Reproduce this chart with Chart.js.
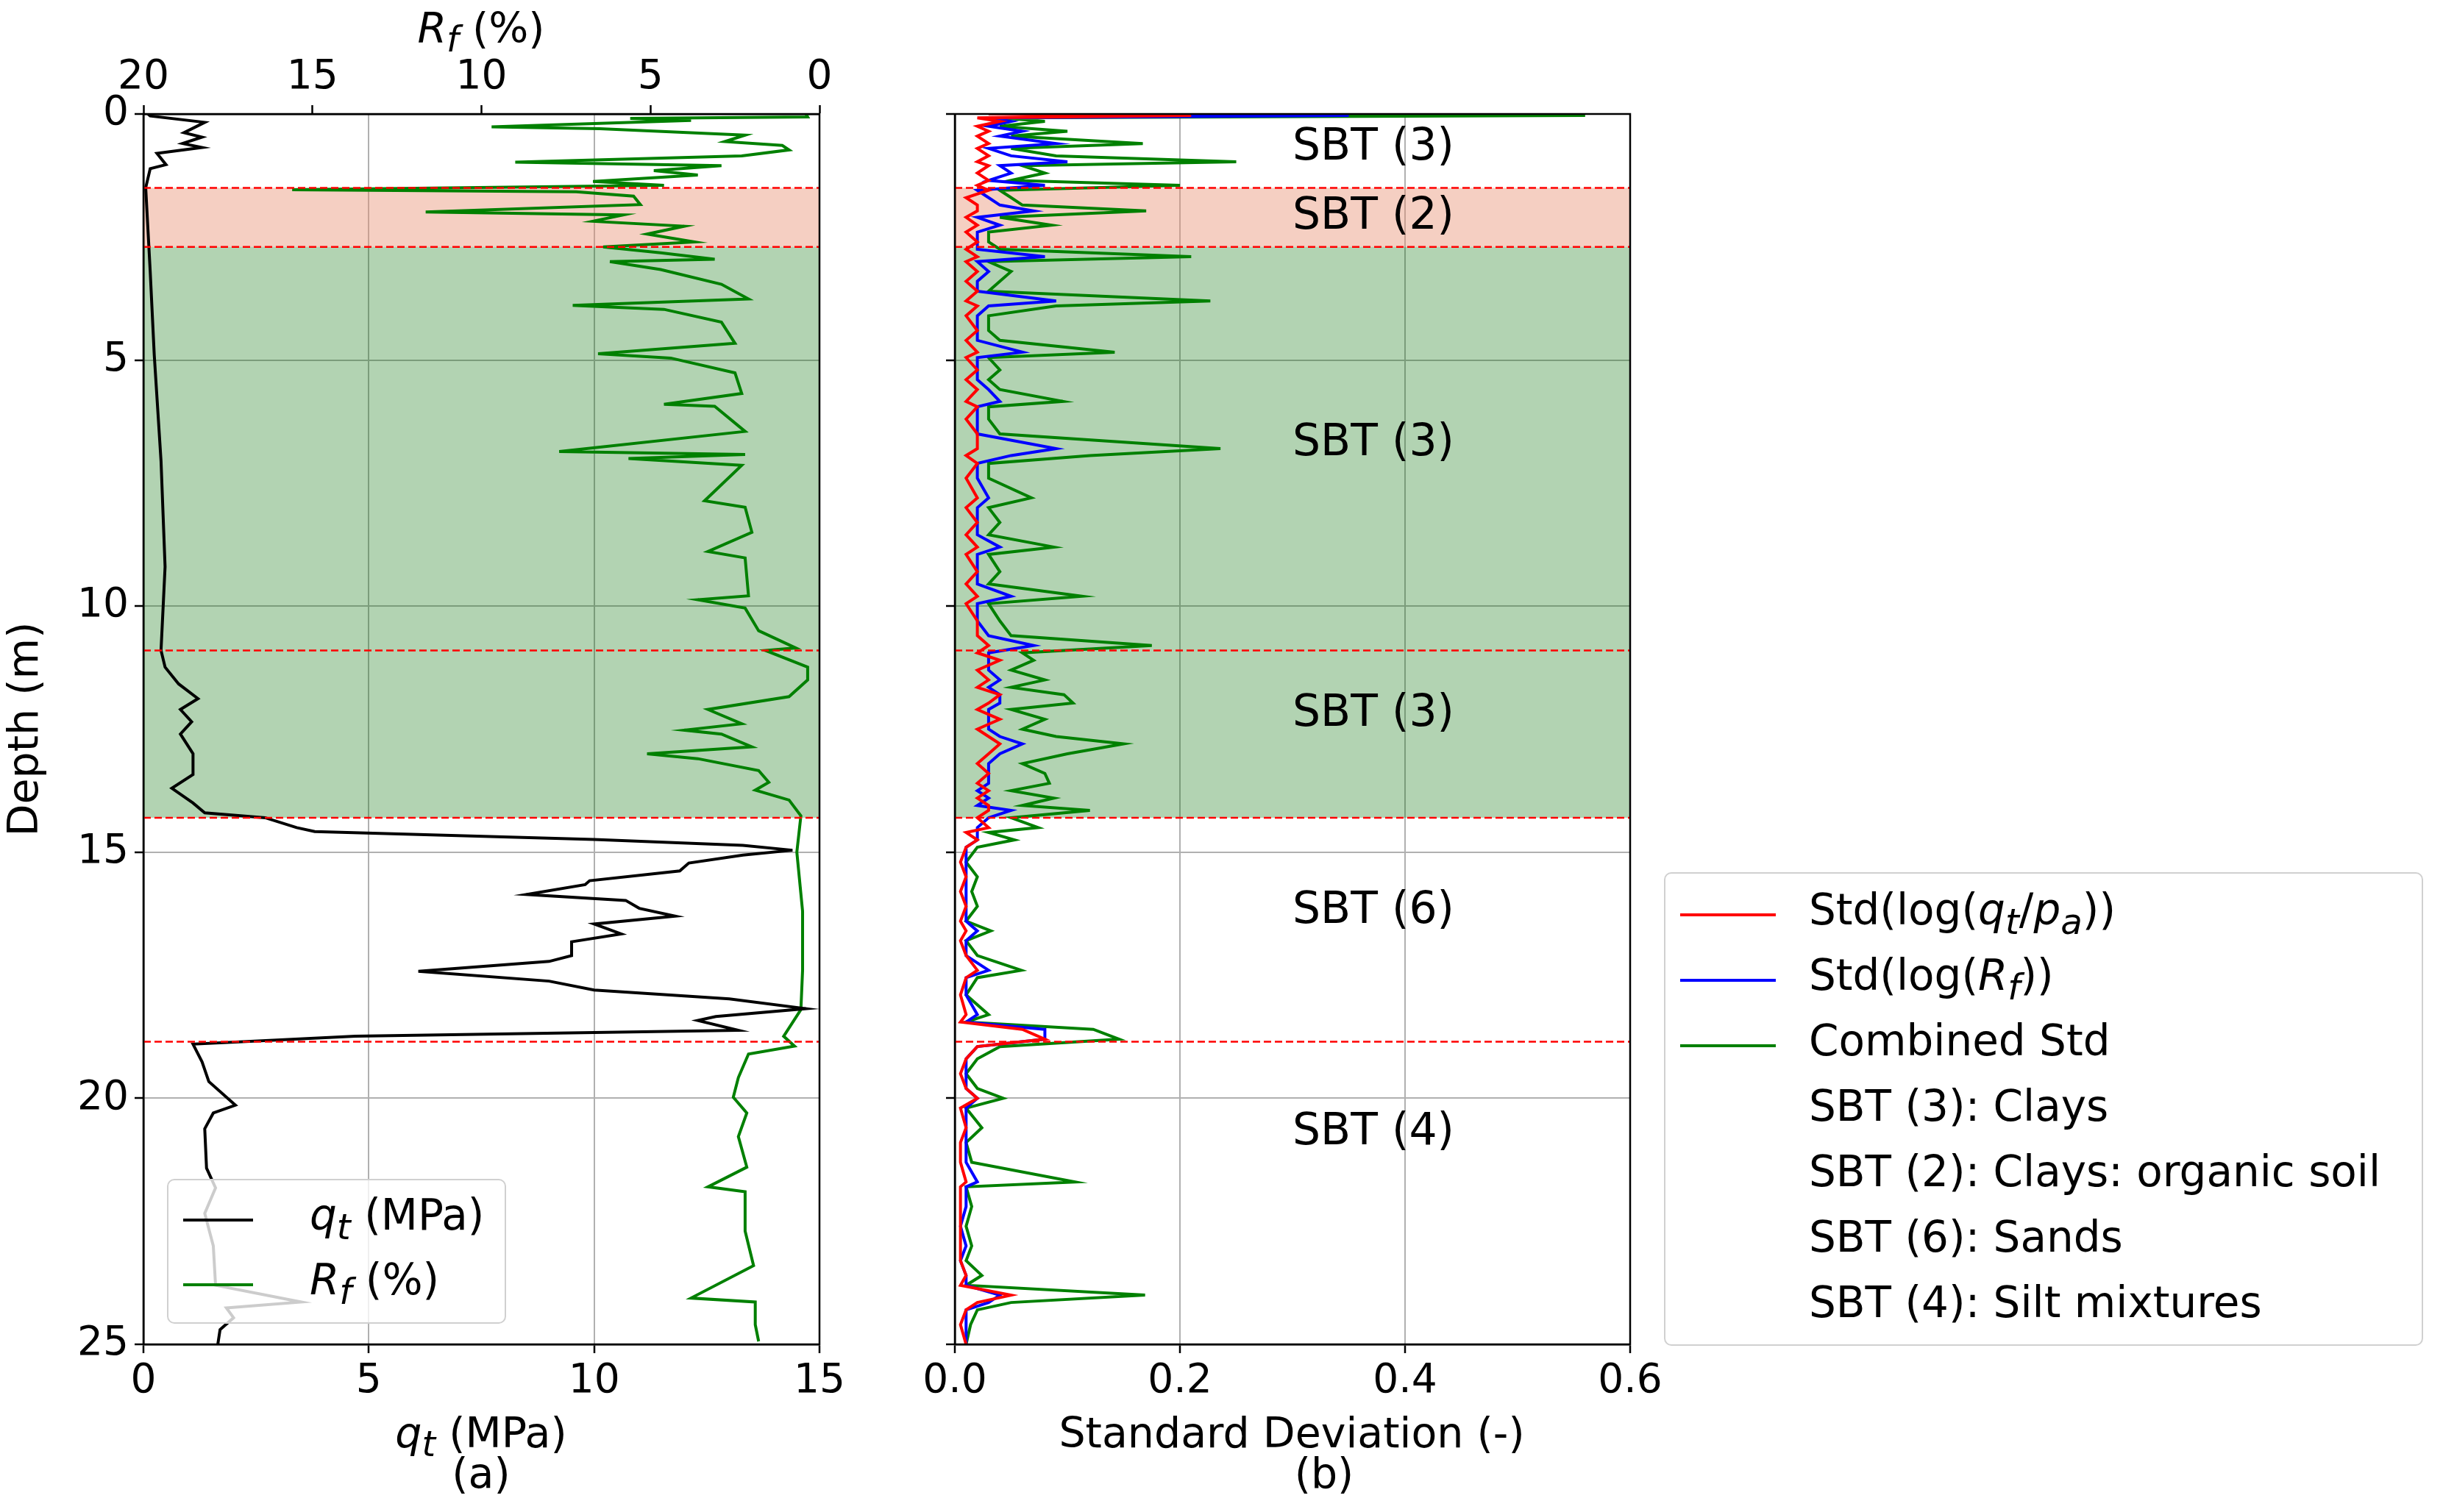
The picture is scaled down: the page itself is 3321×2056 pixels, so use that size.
<!DOCTYPE html>
<html>
<head>
<meta charset="utf-8">
<script src="https://cdn.jsdelivr.net/npm/chart.js@4"></script>
<style>
  body { margin: 0; background: #fff; width: 3321px; height: 2056px; position: relative; overflow: hidden;
         font-family: 'DejaVu Sans', sans-serif; color: #000; }
  canvas { position: absolute; top: 0; }
  .lbl { position: absolute; font-size: 57px; white-space: nowrap; transform: translateX(-50%); line-height: 1; }
  .legend { position: absolute; background: rgba(255,255,255,0.8); border: 2px solid #d0d0d0; border-radius: 10px; }
  .item { position: absolute; font-size: 58px; white-space: nowrap; line-height: 1.1; }
  .item span.h { position: absolute; height: 4px; width: 130px; }
</style>
</head>
<body>
<div style="position:absolute;left:0;top:0;width:1180px;height:2056px"><canvas id="chart-a"></canvas></div>
<div style="position:absolute;left:1180px;top:0;width:1100px;height:2056px"><canvas id="chart-b"></canvas></div>

<div class="lbl" style="left:654px;top:10px"><i>R<sub>f</sub></i> (%)</div>
<div class="lbl" style="left:654px;top:1920px"><i>q<sub>t</sub></i> (MPa)</div>
<div class="lbl" style="left:654px;top:1975px">(a)</div>
<div class="lbl" style="left:1756px;top:1920px">Standard Deviation (-)</div>
<div class="lbl" style="left:1800px;top:1975px">(b)</div>

<div class="legend" style="left:227px;top:1603px;width:457px;height:193px">
  <div class="item" style="left:20px;top:16px"><span class="h" style="background:#000;top:36px;width:95px"></span><span style="margin-left:172px"><i>q<sub>t</sub></i> (MPa)</span></div>
  <div class="item" style="left:20px;top:104px"><span class="h" style="background:#008000;top:36px;width:95px"></span><span style="margin-left:172px"><i>R<sub>f</sub></i> (%)</span></div>
</div>

<div class="legend" style="left:2262px;top:1186px;width:1028px;height:640px">
  <div class="item" style="left:20px;top:18px"><span class="h" style="background:#ff0000;top:36px"></span><span style="margin-left:175px">Std(log(<i>q<sub>t</sub></i>/<i>p<sub>a</sub></i>))</span></div>
  <div class="item" style="left:20px;top:107px"><span class="h" style="background:#0000ff;top:36px"></span><span style="margin-left:175px">Std(log(<i>R<sub>f</sub></i>))</span></div>
  <div class="item" style="left:20px;top:196px"><span class="h" style="background:#008000;top:36px"></span><span style="margin-left:175px">Combined Std</span></div>
  <div class="item" style="left:20px;top:285px"><span style="margin-left:175px">SBT (3): Clays</span></div>
  <div class="item" style="left:20px;top:374px"><span style="margin-left:175px">SBT (2): Clays: organic soil</span></div>
  <div class="item" style="left:20px;top:463px"><span style="margin-left:175px">SBT (6): Sands</span></div>
  <div class="item" style="left:20px;top:552px"><span style="margin-left:175px">SBT (4): Silt mixtures</span></div>
</div>

<script>
  // Cone tip resistance qt (MPa) vs depth (m)
  const qtDepth = [0, 0.04, 0.17, 0.38, 0.47, 0.6, 0.68, 0.8, 1.03, 1.11, 1.5, 3.2, 4.9, 7.05, 9.2, 10.9, 11.24, 11.58, 11.88, 12.1, 12.35, 12.6, 13.0, 13.42, 13.7, 14.0, 14.2, 14.3, 14.5, 14.58, 14.74, 14.86, 14.96, 15.06, 15.22, 15.38, 15.58, 15.66, 15.86, 15.98, 16.14, 16.3, 16.46, 16.66, 16.82, 17.1, 17.22, 17.42, 17.62, 17.8, 17.98, 18.18, 18.34, 18.42, 18.62, 18.74, 18.9, 19.26, 19.66, 20.14, 20.3, 20.62, 21.42, 21.82, 22.34, 23.0, 23.8, 24.14, 24.26, 24.46, 24.7, 25.0];
  const qtValue = [0.1, 0.15, 1.36, 0.9, 1.3, 0.87, 1.3, 0.3, 0.5, 0.15, 0.05, 0.15, 0.24, 0.39, 0.48, 0.39, 0.48, 0.78, 1.21, 0.82, 1.07, 0.82, 1.1, 1.1, 0.63, 1.1, 1.36, 2.7, 3.4, 3.8, 10.0, 13.3, 14.4, 13.3, 12.1, 11.9, 9.9, 9.8, 8.5, 10.7, 11.0, 11.8, 10.0, 10.6, 9.5, 9.5, 9.0, 6.1, 9.0, 10.0, 13.0, 14.7, 12.7, 12.3, 13.2, 4.7, 1.1, 1.3, 1.45, 2.04, 1.55, 1.36, 1.4, 1.6, 1.36, 1.55, 1.6, 3.5, 1.84, 2.0, 1.7, 1.65];

  // Friction ratio Rf (%) vs depth (m)
  const rfDepth = [0, 0.06, 0.09, 0.13, 0.26, 0.3, 0.43, 0.56, 0.64, 0.73, 0.85, 0.98, 1.05, 1.15, 1.24, 1.37, 1.45, 1.54, 1.58, 1.67, 1.84, 1.99, 2.05, 2.18, 2.28, 2.44, 2.6, 2.7, 2.82, 2.95, 3.0, 3.16, 3.46, 3.76, 3.89, 3.97, 4.23, 4.66, 4.87, 4.96, 5.26, 5.68, 5.9, 5.94, 6.45, 6.86, 6.92, 7.0, 7.14, 7.86, 7.99, 8.5, 8.89, 9.02, 9.79, 9.87, 10.04, 10.5, 10.85, 10.9, 11.24, 11.5, 11.84, 12.1, 12.39, 12.52, 12.6, 12.86, 13.0, 13.1, 13.34, 13.58, 13.74, 13.94, 14.26, 15.0, 16.2, 17.4, 18.2, 18.74, 18.94, 19.1, 19.58, 19.98, 20.3, 20.78, 21.4, 21.8, 21.9, 22.7, 23.4, 24.06, 24.14, 24.6, 24.94];
  const rfValue = [0.4, 0.35, 5.6, 3.8, 9.7, 6.5, 2.2, 2.8, 1.1, 0.9, 2.3, 9.0, 2.9, 4.9, 3.6, 6.7, 4.6, 15.6, 7.2, 5.5, 5.3, 11.65, 5.8, 6.7, 4.0, 5.1, 3.7, 6.4, 4.7, 3.1, 6.2, 4.7, 2.9, 2.1, 7.3, 4.6, 2.9, 2.5, 6.55, 4.4, 2.5, 2.3, 4.6, 3.1, 2.2, 7.7, 2.2, 5.65, 2.3, 3.4, 2.2, 2.0, 3.3, 2.2, 2.1, 3.6, 2.2, 1.8, 0.7, 1.6, 0.35, 0.35, 0.9, 3.3, 2.3, 4.0, 2.9, 2.0, 5.1, 3.6, 1.8, 1.5, 1.9, 0.9, 0.55, 0.67, 0.5, 0.5, 0.55, 1.06, 0.74, 2.1, 2.4, 2.55, 2.15, 2.4, 2.15, 3.3, 2.2, 2.2, 1.95, 3.8, 1.9, 1.9, 1.8];

  // Standard deviations vs depth (m)
  const stdDepth = [0, 0.03, 0.08, 0.15, 0.25, 0.35, 0.45, 0.6, 0.7, 0.85, 0.97, 1.05, 1.2, 1.35, 1.45, 1.55, 1.7, 1.85, 1.97, 2.1, 2.26, 2.4, 2.6, 2.75, 2.9, 3.0, 3.2, 3.4, 3.6, 3.8, 3.9, 4.1, 4.4, 4.6, 4.84, 4.95, 5.2, 5.4, 5.6, 5.84, 5.95, 6.2, 6.5, 6.8, 6.94, 7.1, 7.4, 7.8, 8.0, 8.3, 8.55, 8.8, 8.95, 9.3, 9.55, 9.8, 9.95, 10.3, 10.6, 10.8, 10.95, 11.1, 11.3, 11.5, 11.65, 11.8, 11.97, 12.1, 12.3, 12.5, 12.65, 12.8, 13.0, 13.2, 13.4, 13.6, 13.75, 13.9, 14.05, 14.15, 14.3, 14.5, 14.6, 14.75, 14.9, 15.2, 15.5, 15.8, 16.1, 16.4, 16.6, 16.8, 17.1, 17.4, 17.55, 17.9, 18.3, 18.45, 18.6, 18.8, 18.95, 19.2, 19.5, 19.8, 20.0, 20.2, 20.6, 20.9, 21.3, 21.7, 21.8, 22.2, 22.6, 23.0, 23.3, 23.6, 23.8, 24.0, 24.15, 24.3, 24.6, 25.0];
  const stdQt = [0.03, 0.21, 0.02, 0.04, 0.02, 0.03, 0.02, 0.03, 0.02, 0.03, 0.02, 0.03, 0.02, 0.03, 0.02, 0.03, 0.01, 0.02, 0.02, 0.01, 0.02, 0.01, 0.02, 0.01, 0.02, 0.01, 0.02, 0.01, 0.02, 0.01, 0.02, 0.01, 0.02, 0.01, 0.02, 0.01, 0.02, 0.01, 0.02, 0.01, 0.02, 0.01, 0.02, 0.02, 0.01, 0.02, 0.01, 0.02, 0.01, 0.02, 0.01, 0.02, 0.01, 0.02, 0.01, 0.02, 0.01, 0.02, 0.02, 0.03, 0.02, 0.04, 0.02, 0.03, 0.02, 0.04, 0.03, 0.02, 0.04, 0.02, 0.03, 0.04, 0.03, 0.02, 0.03, 0.02, 0.03, 0.02, 0.03, 0.03, 0.02, 0.03, 0.01, 0.02, 0.01, 0.005, 0.01, 0.005, 0.01, 0.005, 0.01, 0.005, 0.01, 0.02, 0.01, 0.005, 0.01, 0.005, 0.06, 0.08, 0.02, 0.01, 0.005, 0.01, 0.02, 0.005, 0.01, 0.005, 0.005, 0.01, 0.005, 0.005, 0.005, 0.005, 0.005, 0.01, 0.005, 0.05, 0.02, 0.01, 0.005, 0.01];
  const stdRf = [0.04, 0.35, 0.03, 0.05, 0.03, 0.06, 0.04, 0.09, 0.03, 0.05, 0.1, 0.04, 0.05, 0.03, 0.08, 0.02, 0.03, 0.04, 0.07, 0.02, 0.04, 0.02, 0.02, 0.02, 0.08, 0.02, 0.03, 0.02, 0.02, 0.09, 0.03, 0.02, 0.02, 0.02, 0.06, 0.02, 0.02, 0.02, 0.03, 0.04, 0.02, 0.02, 0.02, 0.09, 0.05, 0.02, 0.02, 0.03, 0.02, 0.02, 0.02, 0.04, 0.02, 0.02, 0.02, 0.05, 0.02, 0.02, 0.03, 0.07, 0.03, 0.03, 0.03, 0.04, 0.03, 0.04, 0.04, 0.03, 0.03, 0.03, 0.04, 0.06, 0.04, 0.03, 0.03, 0.03, 0.02, 0.03, 0.02, 0.05, 0.03, 0.02, 0.02, 0.02, 0.01, 0.01, 0.01, 0.01, 0.01, 0.01, 0.02, 0.01, 0.01, 0.03, 0.01, 0.01, 0.02, 0.01, 0.08, 0.08, 0.02, 0.01, 0.01, 0.01, 0.02, 0.01, 0.01, 0.01, 0.01, 0.02, 0.01, 0.01, 0.005, 0.01, 0.005, 0.01, 0.01, 0.04, 0.03, 0.01, 0.01, 0.01];
  const stdComb = [0.05, 0.56, 0.04, 0.08, 0.04, 0.1, 0.05, 0.167, 0.05, 0.09, 0.25, 0.06, 0.08, 0.05, 0.2, 0.04, 0.05, 0.06, 0.17, 0.04, 0.086, 0.03, 0.03, 0.04, 0.21, 0.03, 0.05, 0.04, 0.03, 0.227, 0.09, 0.03, 0.03, 0.04, 0.142, 0.03, 0.04, 0.03, 0.04, 0.096, 0.03, 0.03, 0.04, 0.236, 0.12, 0.03, 0.03, 0.068, 0.03, 0.04, 0.03, 0.088, 0.03, 0.04, 0.03, 0.113, 0.03, 0.04, 0.05, 0.175, 0.06, 0.07, 0.05, 0.08, 0.05, 0.097, 0.105, 0.05, 0.08, 0.06, 0.09, 0.15, 0.1, 0.06, 0.08, 0.084, 0.05, 0.088, 0.06, 0.12, 0.05, 0.074, 0.03, 0.053, 0.02, 0.01, 0.02, 0.015, 0.02, 0.01, 0.032, 0.01, 0.02, 0.059, 0.02, 0.01, 0.03, 0.01, 0.123, 0.146, 0.04, 0.02, 0.01, 0.02, 0.043, 0.01, 0.024, 0.01, 0.015, 0.107, 0.01, 0.015, 0.01, 0.015, 0.01, 0.024, 0.01, 0.169, 0.05, 0.02, 0.014, 0.01];

  // SBT layers and boundaries
  const bandTop    = [1.5, 2.7];
  const bandBottom = [2.7, 14.3];
  const bandColor  = ['rgba(230,140,110,0.42)', 'rgba(0,110,0,0.3)'];
  const boundaries = [1.5, 2.7, 10.9, 14.3, 18.85];
  const sbtLabels  = ['SBT (3)', 'SBT (2)', 'SBT (3)', 'SBT (3)', 'SBT (6)', 'SBT (4)'];
  const sbtDepth   = [0.7, 2.1, 6.7, 12.2, 16.2, 20.7];

  Chart.defaults.font = { family: 'DejaVu Sans', size: 55 };
  Chart.defaults.color = '#000';
  Chart.defaults.devicePixelRatio = 1;

  const pts = (xs, ys) => ys.map((d, i) => ({ x: xs[i], y: d }));

  // bands, boundaries, frame, labels
  // ----------------------------------------------------------------------------------------
  const layers = {
    id: 'layers',
    beforeDatasetsDraw(chart) {
      const { ctx, chartArea: a, scales: { y } } = chart;
      ctx.save();
      bandTop.forEach((t, i) => {
        ctx.fillStyle = bandColor[i];
        const y0 = y.getPixelForValue(t), y1 = y.getPixelForValue(bandBottom[i]);
        ctx.fillRect(a.left, y0, a.right - a.left, y1 - y0);
      });
      ctx.restore();
    },
    afterDatasetsDraw(chart, args, opts) {
      const { ctx, chartArea: a, scales } = chart;
      const y = scales.y;
      ctx.save();
      ctx.strokeStyle = '#ff0000';
      ctx.lineWidth = 2.5;
      ctx.setLineDash([10, 5]);
      boundaries.forEach(b => {
        const py = y.getPixelForValue(b);
        ctx.beginPath(); ctx.moveTo(a.left, py); ctx.lineTo(a.right, py); ctx.stroke();
      });
      ctx.setLineDash([]);
      if (opts.labels) {
        ctx.fillStyle = '#000';
        ctx.font = '60px "DejaVu Sans"';
        ctx.textBaseline = 'middle';
        sbtLabels.forEach((t, i) => ctx.fillText(t, scales.x.getPixelForValue(0.30), y.getPixelForValue(sbtDepth[i])));
      }
      ctx.strokeStyle = '#000';
      ctx.lineWidth = 2.5;
      ctx.strokeRect(a.left, a.top, a.right - a.left, a.bottom - a.top);
      ctx.restore();
    }
  };

  const line = (data, color, xAxisID) => ({
    data, borderColor: color, borderWidth: 4, pointRadius: 0, showLine: true, fill: false, tension: 0, xAxisID
  });

  const depthAxis = (w, showLabels) => ({
    type: 'linear', min: 0, max: 25, reverse: true,
    afterFit: s => { s.width = w; },
    ticks: { stepSize: 5, display: showLabels, padding: 8 },
    grid: { color: '#b0b0b0', lineWidth: 2, tickLength: 12, tickColor: '#000', tickWidth: 2.5 },
    border: { color: '#000', width: 2.5 },
    title: { display: showLabels, text: 'Depth (m)', font: { family: 'DejaVu Sans', size: 57 }, padding: 2 }
  });

  new Chart(document.getElementById('chart-a'), {
    type: 'scatter',
    data: { datasets: [
      line(pts(qtValue, qtDepth), '#000000', 'x'),
      line(pts(rfValue, rfDepth), '#008000', 'x2')
    ] },
    options: {
      responsive: true, maintainAspectRatio: false, animation: false,
      layout: { padding: { right: 66 } },
      plugins: { legend: { display: false }, tooltip: { enabled: false }, layers: { labels: false } },
      scales: {
        x: {
          position: 'bottom', min: 0, max: 15, afterFit: s => { s.height = 228; },
          ticks: { stepSize: 5, padding: 6 },
          grid: { color: '#b0b0b0', lineWidth: 2, tickLength: 12, tickColor: '#000', tickWidth: 2.5 },
          border: { color: '#000', width: 2.5 }
        },
        x2: {
          type: 'linear', position: 'top', min: 0, max: 20, reverse: true, afterFit: s => { s.height = 155; },
          ticks: { stepSize: 5, padding: 4 },
          grid: { drawOnChartArea: false, tickLength: 12, tickColor: '#000', tickWidth: 2.5 },
          border: { color: '#000', width: 2.5 }
        },
        y: depthAxis(195, true)
      }
    },
    plugins: [layers]
  });

  new Chart(document.getElementById('chart-b'), {
    type: 'scatter',
    data: { datasets: [
      line(pts(stdQt, stdDepth), '#ff0000', 'x'),
      line(pts(stdRf, stdDepth), '#0000ff', 'x'),
      line(pts(stdComb, stdDepth), '#008000', 'x')
    ] },
    options: {
      responsive: true, maintainAspectRatio: false, animation: false,
      layout: { padding: { right: 64, top: 155 } },
      plugins: { legend: { display: false }, tooltip: { enabled: false }, layers: { labels: true } },
      scales: {
        x: {
          position: 'bottom', min: 0, max: 0.6, afterFit: s => { s.height = 228; },
          ticks: { stepSize: 0.2, padding: 6, callback: v => v.toFixed(1) },
          grid: { color: '#b0b0b0', lineWidth: 2, tickLength: 12, tickColor: '#000', tickWidth: 2.5 },
          border: { color: '#000', width: 2.5 }
        },
        y: depthAxis(118, false)
      }
    },
    plugins: [layers]
  });
</script>
</body>
</html>
